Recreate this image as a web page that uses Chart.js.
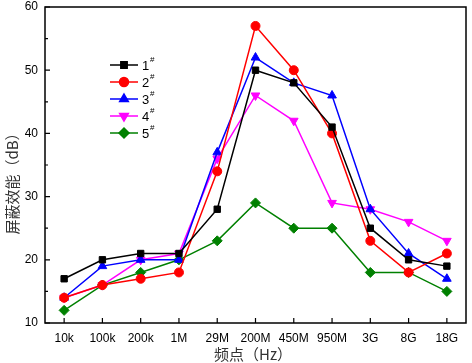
<!DOCTYPE html>
<html><head><meta charset="utf-8">
<script src="https://cdn.jsdelivr.net/npm/chart.js@4.4.0/dist/chart.umd.min.js"></script>
<style>html,body{margin:0;padding:0;background:#fff}#w{width:472px;height:363px}</style>
</head><body><div id="w"><canvas id="c"></canvas></div>
<script>
const categories = ['10k','100k','200k','1M','29M','200M','450M','950M','3G','8G','18G'];
const s1 = [17,20,21,21,28,50,48,41,25,20,19];
const s2 = [14,16,17,18,34,57,50,40,23,18,21];
const s3 = [14,19,20,20,37,52,48,46,28,21,17];
const s4 = [14,16,20,21,36,46,42,29,28,26,23];
const s5 = [12,16,18,20,23,29,25,25,18,18,15];
const seriesNames = ['1','2','3','4','5'];
const yTicks = [10,20,30,40,50,60];
const xTitle = '频点（Hz）';
const yTitle = '屏蔽效能（dB）';

const colors = ['#000000','#ff0000','#0000ff','#ff00ff','#008000'];
const styles = ['rect','circle','triangle','triangle','rectRot'];
const rots = [0,0,0,180,0];
const radii = [4.5,4.5,5,5,5];
const all = [s1,s2,s3,s4,s5];

function drawMarker(ctx, ds, x, y){
  ctx.fillStyle = ds.borderColor; ctx.strokeStyle = ds.borderColor;
  Chart.helpers.drawPoint(ctx,{pointStyle:ds.pointStyle,rotation:ds.pointRotation,radius:ds.pointRadius,borderWidth:1}, x, y);
}

const frame = {
  id:'frame',
  afterDraw(chart){
    const {ctx, chartArea:a, scales:{x,y}} = chart;
    ctx.save();
    ctx.strokeStyle='#000'; ctx.lineWidth=1.5;
    ctx.strokeRect(a.left, a.top, a.right-a.left, a.bottom-a.top);
    ctx.lineWidth=1.2;
    ctx.beginPath();
    for(let v=10; v<=60; v+=5){
      const py=y.getPixelForValue(v);
      const len = v%10===0?5:3;
      ctx.moveTo(a.left,py); ctx.lineTo(a.left+len,py);
    }
    for(let i=0;i<categories.length;i++){
      const px=x.getPixelForValue(i);
      ctx.moveTo(px,a.bottom); ctx.lineTo(px,a.bottom-5);
    }
    ctx.stroke();
    // titles
    ctx.fillStyle='#333';
    ctx.font='15px "Noto Sans CJK SC", sans-serif';
    ctx.textAlign='center'; ctx.textBaseline='middle';
    ctx.fillText(xTitle, 253, 354);
    ctx.save();
    ctx.translate(12, 180); ctx.rotate(-Math.PI/2);
    ctx.fillText(yTitle, 0, 0);
    ctx.restore();
    // legend
    const lx0=110, lx1=138, ly0=65, dy=17;
    chart.data.datasets.forEach((ds,i)=>{
      const ly = ly0 + i*dy;
      ctx.strokeStyle=ds.borderColor; ctx.lineWidth=1.5;
      ctx.beginPath(); ctx.moveTo(lx0,ly); ctx.lineTo(lx1,ly); ctx.stroke();
      drawMarker(ctx, ds, (lx0+lx1)/2, ly);
      ctx.fillStyle='#000';
      ctx.font='13px "Liberation Sans", Arial, sans-serif';
      ctx.textAlign='left'; ctx.textBaseline='middle';
      ctx.fillText(seriesNames[i], 142, ly+1);
      ctx.font='8px "Liberation Sans", Arial, sans-serif';
      ctx.fillText('#', 150, ly-5);
    });
    ctx.restore();
  }
};

new Chart(document.getElementById('c'),{
  type:'line',
  data:{labels:categories, datasets: all.map((d,i)=>({
    label:seriesNames[i]+'#', data:d,
    borderColor:colors[i], backgroundColor:colors[i],
    pointBackgroundColor:colors[i], pointBorderColor:colors[i],
    pointStyle:styles[i], pointRotation:rots[i], pointRadius:radii[i], pointBorderWidth:1,
    borderWidth:1.5, tension:0, fill:false
  }))},
  options:{
    responsive:true, maintainAspectRatio:false, animation:false,
    layout:{padding:{top:7,right:2,left:0,bottom:0}},
    plugins:{legend:{display:false}, tooltip:{enabled:false}},
    scales:{
      x:{offset:true, grid:{display:false, drawTicks:false}, border:{display:false},
        ticks:{color:'#000', font:{family:'"Liberation Sans", Arial, sans-serif', size:12}, padding:8, maxRotation:0, autoSkip:false},
        afterFit(s){ s.height=40; s.paddingLeft=0; s.paddingRight=0; }},
      y:{min:10,max:60, grid:{display:false, drawTicks:false}, border:{display:false},
        afterBuildTicks(s){ s.ticks = yTicks.map(v=>({value:v})); },
        ticks:{color:'#000', font:{family:'"Liberation Sans", Arial, sans-serif', size:12}, padding:7},
        afterFit(s){ s.width=45; s.paddingTop=0; s.paddingBottom=0; }}
    }
  },
  plugins:[frame]
});
</script></body></html>
